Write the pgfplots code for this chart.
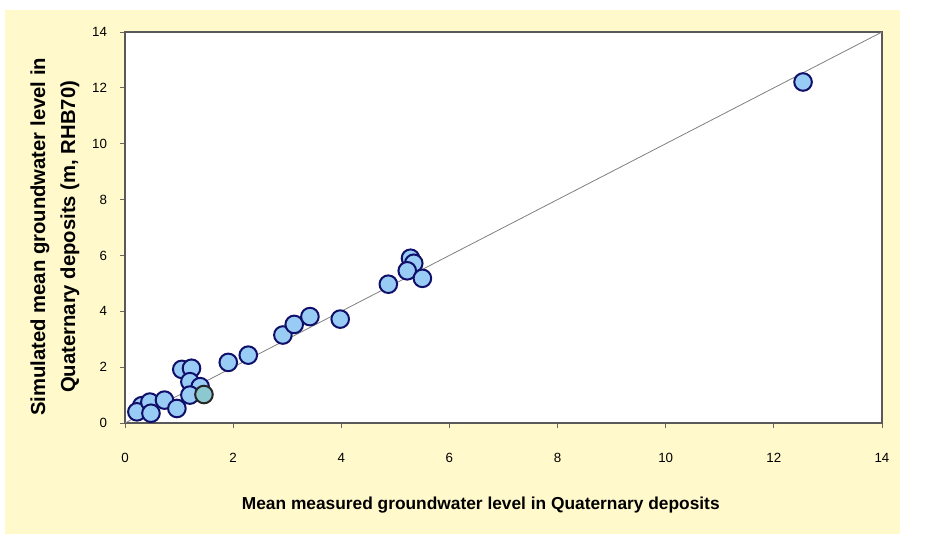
\documentclass[border=0pt]{standalone}
\usepackage{pgfplots}
\pgfplotsset{compat=1.18}
\usepackage{fontspec}
\setmainfont{Liberation Sans}
\definecolor{bgyellow}{HTML}{FFF9CC}
\definecolor{ptfill}{HTML}{99CCF5}
\definecolor{ptedge}{HTML}{10106A}
\definecolor{ptfill2}{HTML}{8CC8D0}
\begin{document}
\begin{tikzpicture}
\fill[white] (0pt,0pt) rectangle (699.75pt,408pt);
\fill[bgyellow] (3.75pt,7.5pt) rectangle (675pt,400.5pt);
\begin{axis}[
  at={(93.75pt,90.75pt)}, anchor=south west,
  scale only axis, width=567.75pt, height=293.25pt,
  xmin=0, xmax=14, ymin=0, ymax=14,
  xtick={0,2,...,14}, ytick={0,2,...,14},
  tick align=outside, tick pos=left,
  major tick length=4pt,
  axis line style={black!65, line width=1.1pt},
  every tick/.style={black!60, line width=0.6pt},
  axis background/.style={fill=white},
  tick label style={font=\fontsize{10}{11}\selectfont},
  xticklabel style={yshift=-15pt},
  yticklabel style={xshift=-6pt},
  /pgf/number format/assume math mode=true,
  xlabel={\bfseries Mean measured groundwater level in Quaternary deposits},
  x label style={at={(axis description cs:0.47,-0.21)}, anchor=center, font=\fontsize{13}{15}\selectfont},
  ylabel={\bfseries Simulated mean groundwater level in\\ \bfseries Quaternary deposits (m, RHB70)},
  y label style={at={(axis description cs:-0.0925,0.476)}, anchor=center, align=center, font=\fontsize{15.2}{22.5}\selectfont},
  clip=false,
]
\addplot[gray, line width=0.6pt] coordinates {(0,0) (14,14)};
\addplot[only marks, mark=*, mark size=6.6pt, mark options={fill=ptfill, draw=ptedge, line width=1.5pt}] coordinates {
(12.54,12.21)
(5.28,5.90) (5.34,5.72) (5.22,5.45) (5.50,5.18) (4.87,4.97)
(2.92,3.15) (3.13,3.53) (3.42,3.81) (3.98,3.72)
(1.91,2.17) (2.28,2.43)
(1.05,1.92) (1.23,1.96) (1.20,1.48) (1.39,1.30) (1.20,1.00)
(0.31,0.62) (0.22,0.40) (0.46,0.75) (0.73,0.82) (0.96,0.52) (0.48,0.35)
};
\addplot[only marks, mark=*, mark size=6.6pt, mark options={fill=ptfill2, draw=black!85, line width=1.5pt}] coordinates {(1.46,1.02)};
\end{axis}
\end{tikzpicture}
\end{document}
